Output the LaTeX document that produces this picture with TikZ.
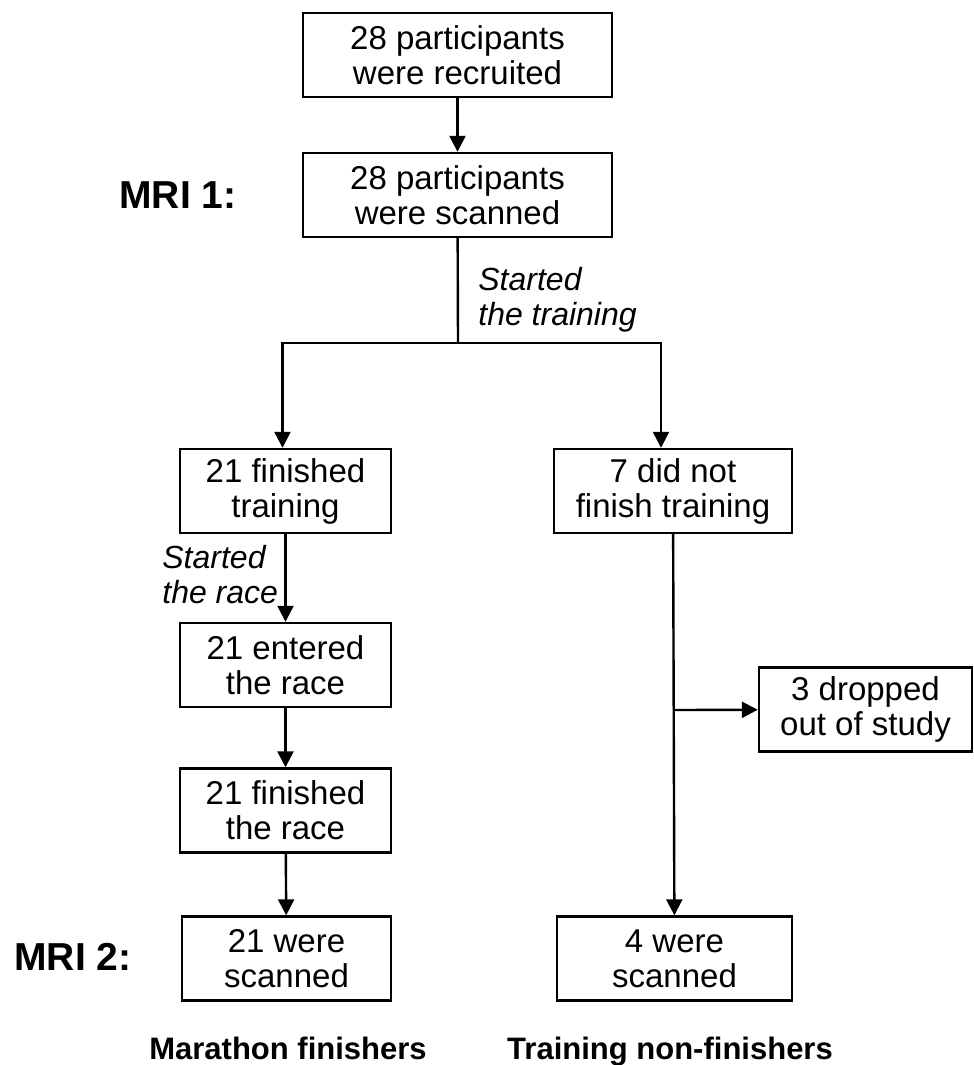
\documentclass[tikz,border=0pt]{standalone}
\usepackage{fontspec}
\setmainfont{Liberation Sans}
\usepackage{tikz}
\usetikzlibrary{arrows.meta}

\begin{document}
\begin{tikzpicture}[x=0.5pt,y=-0.5pt,
  box/.style={draw,line width=1.2pt,align=center,inner sep=0pt,minimum height=42pt,font=\fontsize{16.5}{17.5}\selectfont},
  note/.style={align=left,inner sep=0pt,font=\fontsize{16}{17.5}\selectfont\itshape},
  head/.style={inner sep=0pt,font=\fontsize{19.5}{21}\selectfont\bfseries},
  group/.style={inner sep=0pt,anchor=base,font=\fontsize{15.5}{17.5}\selectfont\bfseries},
  flow/.style={line width=1.2pt,-{Triangle[width=8pt,length=8pt]}},
  link/.style={line width=1.2pt}]
  \useasboundingbox (0,0) rectangle (974,1065);

  % boxes
  \node[box,minimum width=154.5pt] (recruited) at (457.5,55) {28 participants\\were recruited};
  \node[box,minimum width=154.5pt] (scanA) at (457.5,195) {28 participants\\were scanned};
  \node[box,minimum width=105.5pt] (trained) at (285.5,491) {21 finished\\training};
  \node[box,minimum width=119pt] (quit) at (673,491) {7 did not\\finish training};
  \node[box,minimum width=105.5pt] (entered) at (285.5,665) {21 entered\\the race};
  \node[box,minimum width=105.5pt] (finished) at (285.5,810.5) {21 finished\\the race};
  \node[box,minimum width=104.5pt] (scanB) at (286.5,958.5) {21 were\\scanned};
  \node[box,minimum width=117.5pt] (scanC) at (674.5,958.5) {4 were\\scanned};
  \node[box,minimum width=106.5pt] (dropped) at (865.5,709.5) {3 dropped\\out of study};

  % labels
  \node[head] (mriA) at (178,195) {MRI 1:};
  \node[head] (mriB) at (73,957) {MRI 2:};
  \node[note,anchor=north west] (training) at (478,267) {Started\\the training};
  \node[note,anchor=north west] (race) at (162,545) {Started\\the race};
  \node[group] (marathon) at (288,1059) {Marathon finishers};
  \node[group] (nonfin) at (670,1059) {Training non-finishers};

  % connectors
  \coordinate (split) at (458,343);
  \coordinate (branch) at (674,710);
  \draw[flow] (recruited) -- (scanA);
  \draw[link] (scanA) -- (split);
  \draw[flow] (split) -| ([xshift=-1.5pt]trained.north);
  \draw[flow] (split) -| ([xshift=-6pt]quit.north);
  \draw[flow] (trained) -- (entered);
  \draw[flow] (entered) -- (finished);
  \draw[flow] (finished) -- (scanB);
  \draw[flow] (quit) -- (scanC);
  \draw[flow] (branch) -- (dropped);
\end{tikzpicture}
\end{document}
